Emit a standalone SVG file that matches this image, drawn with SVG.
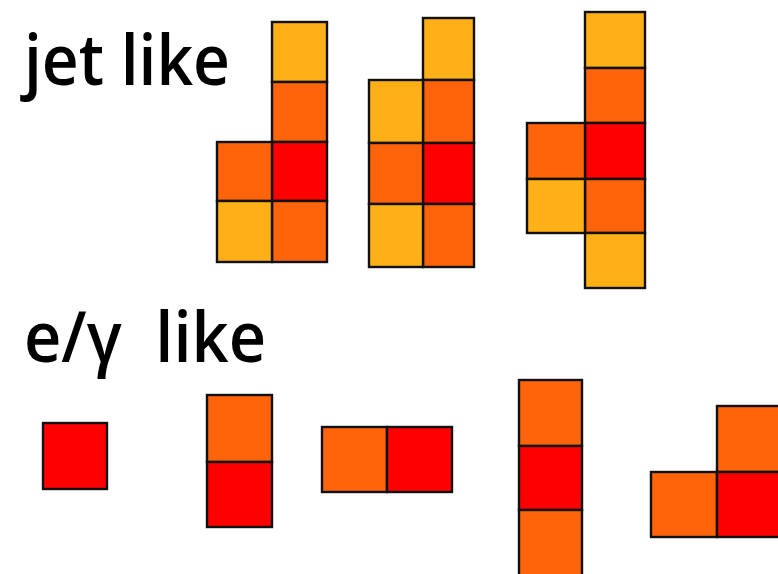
<svg xmlns="http://www.w3.org/2000/svg" width="778" height="574" viewBox="0 0 778 574">
<style>
rect{stroke:#111;stroke-width:2.4}
.y{fill:#FFB016}.o{fill:#FF640A}.r{fill:#FF0000}
text{font-family:"Open Sans","DejaVu Sans",sans-serif;font-weight:600;fill:#000;white-space:pre}
</style>
<rect width="778" height="574" fill="#fff" style="stroke:none"/>
<g id="label-jet"><text x="24" y="85" font-size="70" textLength="206" lengthAdjust="spacingAndGlyphs">jet like</text></g>
<g id="label-egamma"><text x="24" y="362" font-size="70" textLength="242" lengthAdjust="spacingAndGlyphs" xml:space="preserve">e/γ  like</text></g>
<g id="jet1">
<rect class="y" x="272" y="22" width="55" height="60"/>
<rect class="o" x="272" y="82" width="55" height="60"/>
<rect class="r" x="272" y="142" width="55" height="59"/>
<rect class="o" x="272" y="201" width="55" height="61"/>
<rect class="o" x="217" y="142" width="55" height="59"/>
<rect class="y" x="217" y="201" width="55" height="61"/>
</g>
<g id="jet2">
<rect class="y" x="423" y="18" width="51" height="62"/>
<rect class="o" x="423" y="80" width="51" height="63"/>
<rect class="r" x="423" y="143" width="51" height="61"/>
<rect class="o" x="423" y="204" width="51" height="63"/>
<rect class="y" x="369" y="80" width="54" height="63"/>
<rect class="o" x="369" y="143" width="54" height="61"/>
<rect class="y" x="369" y="204" width="54" height="63"/>
</g>
<g id="jet3">
<rect class="y" x="585" y="12" width="60" height="56"/>
<rect class="o" x="585" y="68" width="60" height="55"/>
<rect class="r" x="585" y="123" width="60" height="56"/>
<rect class="o" x="585" y="179" width="60" height="54"/>
<rect class="y" x="585" y="233" width="60" height="55"/>
<rect class="o" x="527" y="123" width="58" height="56"/>
<rect class="y" x="527" y="179" width="58" height="54"/>
</g>
<g id="eg1">
<rect class="r" x="43" y="423" width="64" height="66"/>
</g>
<g id="eg2">
<rect class="o" x="207" y="395" width="65" height="67"/>
<rect class="r" x="207" y="462" width="65" height="65"/>
</g>
<g id="eg3">
<rect class="o" x="322" y="427" width="65" height="65"/>
<rect class="r" x="387" y="427" width="65" height="65"/>
</g>
<g id="eg4">
<rect class="o" x="519" y="380" width="63" height="66"/>
<rect class="r" x="519" y="446" width="63" height="64"/>
<rect class="o" x="519" y="510" width="63" height="66"/>
</g>
<g id="eg5">
<rect class="o" x="717" y="406" width="66" height="66"/>
<rect class="o" x="651" y="472" width="66" height="65"/>
<rect class="r" x="717" y="472" width="66" height="65"/>
</g>
</svg>
